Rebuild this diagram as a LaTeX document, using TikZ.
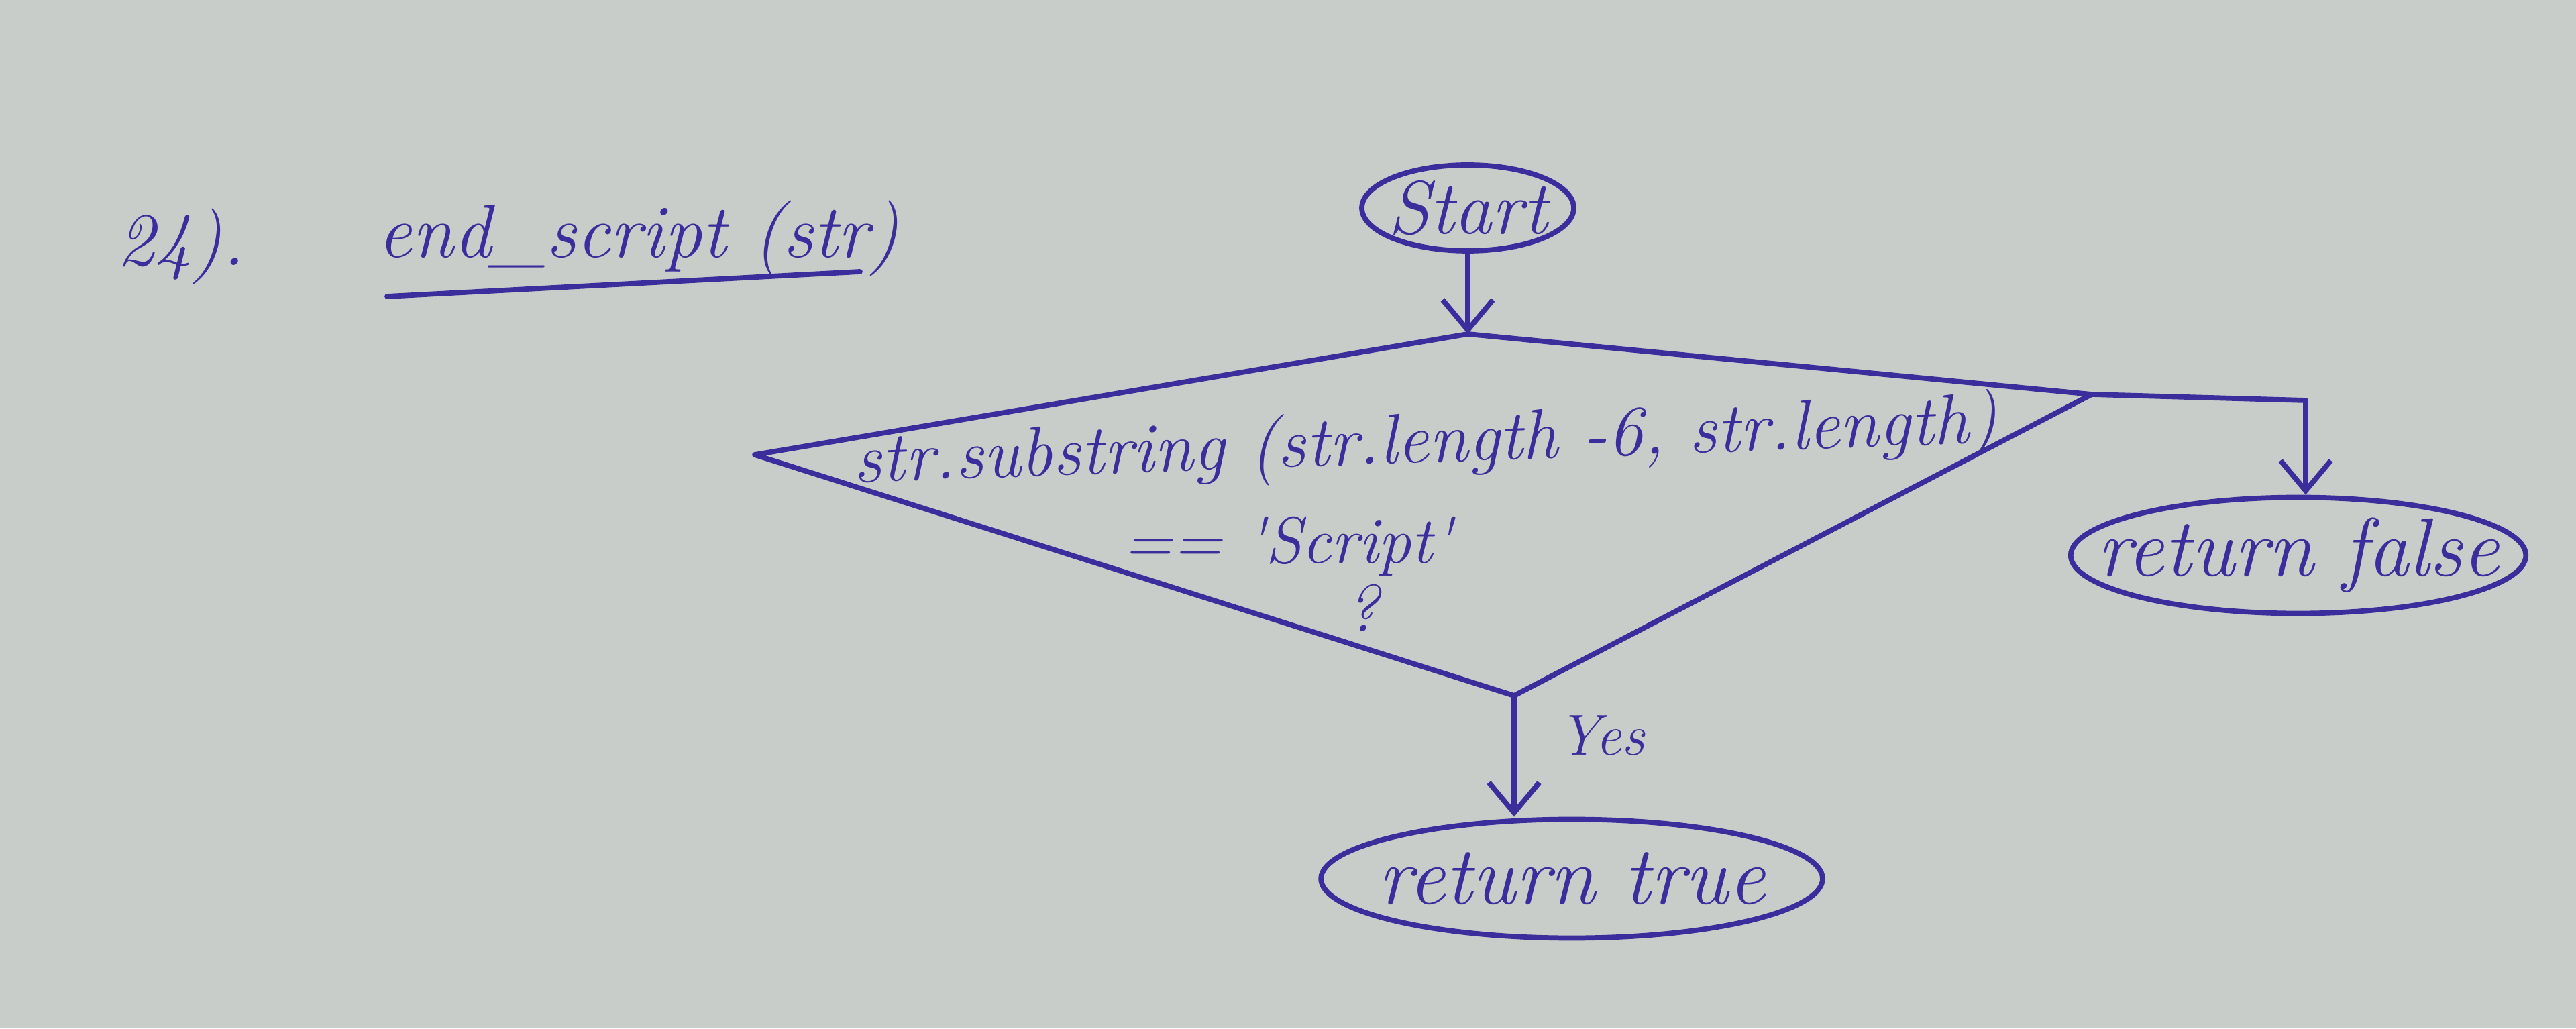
\documentclass[tikz,border=0pt]{standalone}
\usepackage{fontspec}
\usepackage{tikz}
\usetikzlibrary{shapes.geometric,arrows.meta,calc}
\definecolor{ink}{HTML}{3B2E9C}
\definecolor{paper}{HTML}{C9CDCA}

\begin{document}
\begin{tikzpicture}[>={Straight Barb[length=4.5mm,width=7.5mm]},
    hand/.style={font=\fontsize{28}{34}\selectfont\itshape, text=ink},
    oval/.style={ellipse, draw=ink, line width=2.2pt, inner sep=0pt, hand},
    pen/.style={draw=ink, line width=2.2pt, line cap=round, line join=round}]
    \fill[paper] (0,0) rectangle (38.4,15.33);
    \useasboundingbox (0,0) rectangle (38.4,15.33);

    % Heading
    \node[hand, font=\fontsize{32}{38}\selectfont\itshape] (num) at (2.70,11.66) {24).};
    \node[hand, font=\fontsize{32}{38}\selectfont\itshape] (title) at (9.52,11.78) {end\_script (str)};
    \draw[pen] (5.77,10.91) -- (12.82,11.28);

    % Terminals
    \node[oval, font=\fontsize{32}{38}\selectfont\itshape, inner xsep=-1mm,
          minimum width=3.16cm, minimum height=1.28cm] (start) at (21.88,12.23) {Start};
    \node[oval, font=\fontsize{35}{40}\selectfont\itshape, inner xsep=-6mm,
          minimum width=6.70cm, minimum height=1.73cm] (false) at (34.26,7.05) {return false};
    \node[oval, font=\fontsize{35}{40}\selectfont\itshape, inner xsep=-2.4mm,
          minimum width=7.37cm, minimum height=1.77cm] (true) at (23.43,2.23) {return true};

    % Decision
    \coordinate (dtop) at (21.88,10.35);
    \coordinate (dright) at (31.18,9.45);
    \coordinate (dbottom) at (22.57,4.96);
    \coordinate (dleft) at (11.25,8.55);
    \coordinate (corner) at (34.37,9.36);
    \draw[pen] (dtop) -- (dright) -- (dbottom) -- (dleft) -- cycle;
    \node[hand, font=\fontsize{30}{36}\selectfont\itshape, rotate=2] (cond) at (21.25,8.70) {str.substring (str.length -6, str.length)};
    \node[hand] (eq) at (19.20,7.19) {== \textquotesingle Script\textquotesingle};
    \node[hand] (qm) at (20.31,6.27) {?};

    % Connectors
    \draw[pen, ->] (start.south) -- (dtop);
    \draw[pen, ->] (dright) -- (corner) -- (corner |- false.north);
    \draw[pen, ->] (dbottom) -- (dbottom |- true.north)
        node[pos=0.33, right=5mm, hand, font=\fontsize{24.5}{29}\selectfont\itshape] (yes) {Yes};
\end{tikzpicture}
\end{document}
